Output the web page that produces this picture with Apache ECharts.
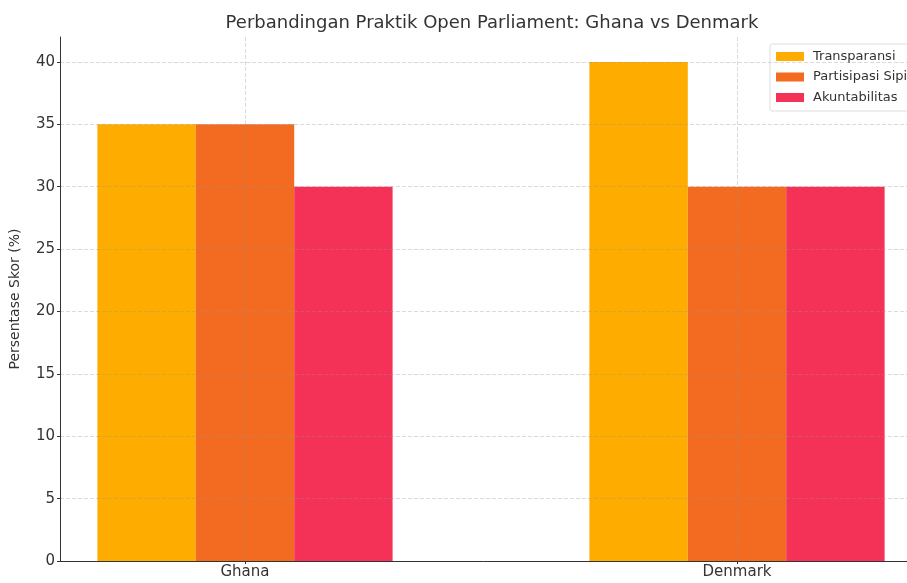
<!DOCTYPE html>
<html>
<head>
<meta charset="utf-8">
<script src="https://cdn.jsdelivr.net/npm/echarts@6/dist/echarts.min.js"></script>
<style>html,body{margin:0;padding:0;background:#fff}#c{width:907px;height:583px}</style>
</head>
<body>
<div id="c"></div>
<script>
const categories = ['Ghana', 'Denmark'];
const seriesNames = ['Transparansi', 'Partisipasi Sipil', 'Akuntabilitas'];
const transparansi = [35, 40];
const partisipasi = [35, 30];
const akuntabilitas = [30, 30];
const yTicks = [0, 5, 10, 15, 20, 25, 30, 35, 40];
const colors = ['#FFAC00', '#F26B21', '#F43157'];

const values = [transparansi, partisipasi, akuntabilitas];
const font = 'DejaVu Sans';
const chart = echarts.init(document.getElementById('c'));
chart.setOption({
  animation: false,
  textStyle: { fontFamily: font },
  title: {
    text: 'Perbandingan Praktik Open Parliament: Ghana vs Denmark',
    left: 487, top: 9, textAlign: 'center',
    textStyle: { fontFamily: font, fontSize: 18, fontWeight: 'normal', color: '#333' }
  },
  legend: {
    data: seriesNames,
    orient: 'vertical',
    left: 770, top: 44,
    itemWidth: 28, itemHeight: 9, itemGap: 7.5,
    backgroundColor: '#fff',
    borderColor: '#ddd', borderWidth: 1, borderRadius: 2,
    padding: [6, 8, 7, 6],
    icon: 'rect',
    textStyle: { fontFamily: font, fontSize: 13, color: '#333', padding: [0, 0, 0, 4] }
  },
  grid: { left: 60, right: 0, top: 37, bottom: 22, containLabel: false, outerBoundsMode: 'none' },
  xAxis: {
    type: 'value', min: -0.376, max: 1.3455, z: 5,
    axisLine: { show: true, onZero: false, lineStyle: { color: '#333', width: 1 } },
    axisTick: { show: true, customValues: [0, 1], length: 3, lineStyle: { color: '#333' } },
    axisLabel: { customValues: [0, 1], formatter: v => categories[Math.round(v)], fontFamily: font, fontSize: 15, color: '#333', margin: 4 },
    splitLine: { show: true, lineStyle: { type: 'dashed', color: 'rgba(150,150,150,0.35)', width: 1 } }
  },
  yAxis: {
    type: 'value', min: 0, max: 42, z: 5,
    name: 'Persentase Skor (%)', nameLocation: 'middle', nameGap: 38,
    nameTextStyle: { fontFamily: font, fontSize: 14, color: '#333' },
    axisLine: { show: true, onZero: false, lineStyle: { color: '#333', width: 1 } },
    axisTick: { show: true, customValues: yTicks, length: 3, lineStyle: { color: '#333' } },
    axisLabel: { customValues: yTicks, fontFamily: font, fontSize: 15, color: '#333', margin: 5 },
    splitLine: { show: true, lineStyle: { type: 'dashed', color: 'rgba(150,150,150,0.35)', width: 1 } }
  },
  series: seriesNames.map((name, i) => ({
    name, type: 'bar',
    barWidth: '20%', barGap: '0%',
    itemStyle: { color: colors[i] },
    data: values[i].map((v, j) => [j, v])
  }))
});
</script>
</body>
</html>
